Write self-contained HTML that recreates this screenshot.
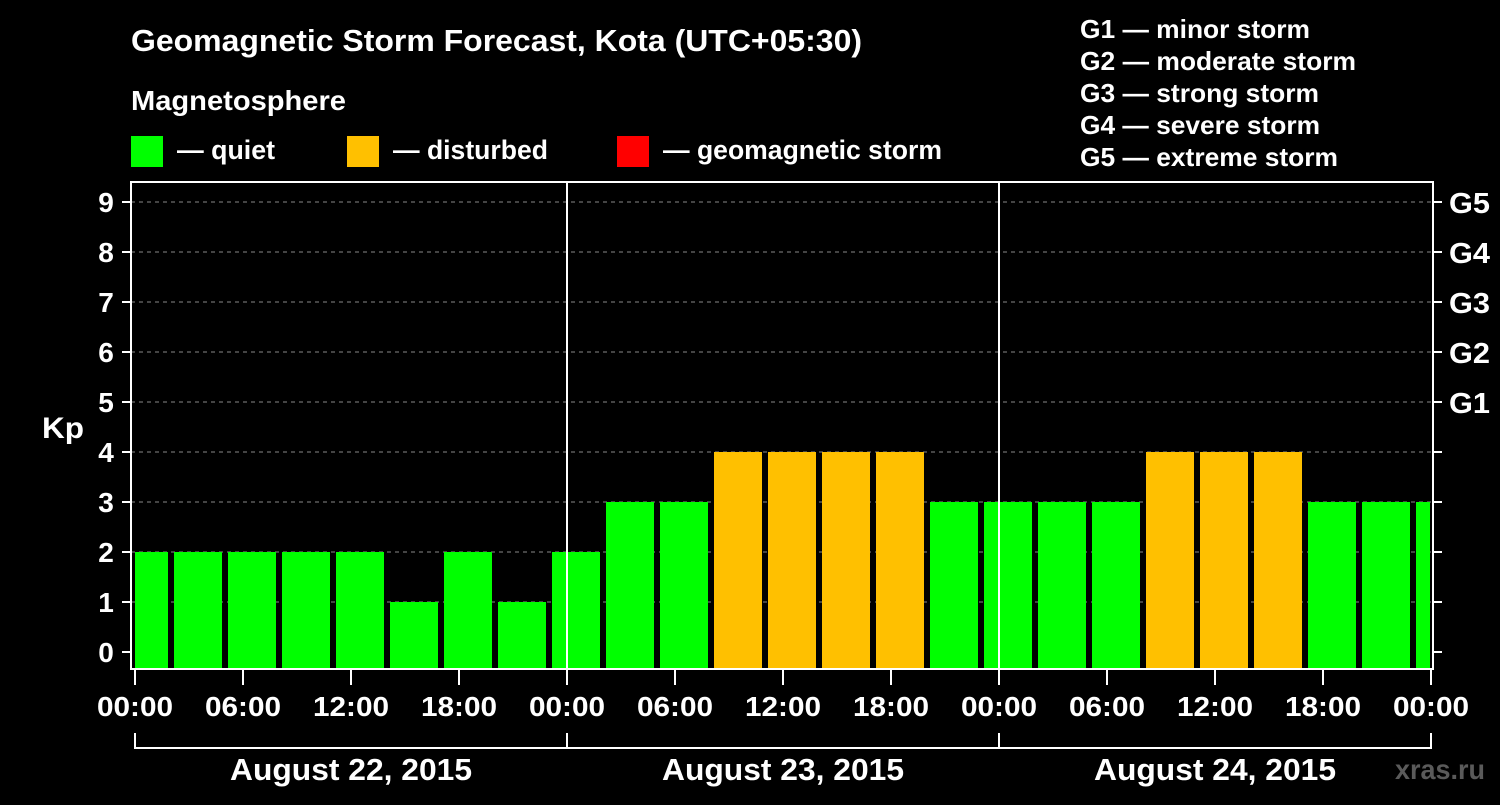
<!DOCTYPE html>
<html><head><meta charset="utf-8"><style>
html,body{margin:0;padding:0;background:#000;}
svg text{font-family:"Liberation Sans",Arial,sans-serif;font-weight:bold;fill:#fff;}
</style></head><body>
<svg id="chart" width="1500" height="800" xmlns="http://www.w3.org/2000/svg">
<rect width="1500" height="800" fill="#000"/>
<text x="131" y="51" font-size="31" textLength="731" lengthAdjust="spacingAndGlyphs">Geomagnetic Storm Forecast, Kota (UTC+05:30)</text>
<text x="131" y="110" font-size="28" textLength="215" lengthAdjust="spacingAndGlyphs">Magnetosphere</text>
<g><rect x="131" y="136" width="32" height="31" fill="#00ff00"/><text x="177" y="159" font-size="27" textLength="98" lengthAdjust="spacingAndGlyphs">— quiet</text></g>
<g><rect x="347" y="136" width="32" height="31" fill="#ffc000"/><text x="393" y="159" font-size="27" textLength="155" lengthAdjust="spacingAndGlyphs">— disturbed</text></g>
<g><rect x="617" y="136" width="32" height="31" fill="#ff0000"/><text x="663" y="159" font-size="27" textLength="279" lengthAdjust="spacingAndGlyphs">— geomagnetic storm</text></g>
<g font-size="26">
<text x="1080" y="38" textLength="230" lengthAdjust="spacingAndGlyphs">G1 — minor storm</text>
<text x="1080" y="70" textLength="276" lengthAdjust="spacingAndGlyphs">G2 — moderate storm</text>
<text x="1080" y="102" textLength="239" lengthAdjust="spacingAndGlyphs">G3 — strong storm</text>
<text x="1080" y="134" textLength="240" lengthAdjust="spacingAndGlyphs">G4 — severe storm</text>
<text x="1080" y="166" textLength="258" lengthAdjust="spacingAndGlyphs">G5 — extreme storm</text>
</g>
<text x="42" y="438" font-size="30" textLength="42" lengthAdjust="spacingAndGlyphs">Kp</text>
<text x="1395" y="779" font-size="28" textLength="90" lengthAdjust="spacingAndGlyphs" style="fill:#5a5a5a">xras.ru</text>
<g id="grid"></g><g id="bars"></g><g id="axes"></g>
</svg>
<script>
const kpValues=[2,2,2,2,2,1,2,1,2,3,3,4,4,4,4,3,3,3,3,4,4,4,3,3,3];
const barStartHours=[-1,2,5,8,11,14,17,20,23,26,29,32,35,38,41,44,47,50,53,56,59,62,65,68,71];
const yTicks=[0,1,2,3,4,5,6,7,8,9];
const gLabels=["G1","G2","G3","G4","G5"];
const gLevels=[5,6,7,8,9];
const xTickLabels=["00:00","06:00","12:00","18:00","00:00","06:00","12:00","18:00","00:00","06:00","12:00","18:00","00:00"];
const dayLabels=["August 22, 2015","August 23, 2015","August 24, 2015"];
const NS="http://www.w3.org/2000/svg";
const L=131,R=1433,T=182,B=669;
const xs=h=>135+h*18;
const ys=v=>652-v*50;
function mk(tag,attrs,parent){const e=document.createElementNS(NS,tag);for(const k in attrs)e.setAttribute(k,attrs[k]);document.getElementById(parent).appendChild(e);return e;}
yTicks.forEach(v=>{if(v>0){const l=mk('line',{x1:L,x2:R,y1:ys(v),y2:ys(v),stroke:'#888','stroke-width':1,'stroke-dasharray':'4,4'},'grid');

}});
kpValues.forEach((v,i)=>{let x0=Math.max(xs(barStartHours[i])+3,L+4);let x1=Math.min(xs(barStartHours[i]+3)-3,xs(72)-1);
const c=v>=5?'#ff0000':(v>=4?'#ffc000':'#00ff00');
const r=mk('rect',{x:x0,y:ys(v),width:x1-x0,height:B-1-ys(v),fill:c},'bars');

});
mk('rect',{x:L,y:T,width:R-L,height:B-T,fill:'none',stroke:'#fff','stroke-width':2},'axes');
[1,2].forEach(d=>{const l=mk('line',{x1:xs(24*d),x2:xs(24*d),y1:T,y2:B,stroke:'#fff','stroke-width':2},'axes');

});
yTicks.forEach(v=>{mk('line',{x1:122,x2:L,y1:ys(v),y2:ys(v),stroke:'#fff','stroke-width':2},'axes');
mk('line',{x1:R,x2:R+9,y1:ys(v),y2:ys(v),stroke:'#fff','stroke-width':2},'axes');
const t=mk('text',{x:106,y:ys(v)+10,'font-size':28,'text-anchor':'middle'},'axes');t.textContent=v;

});
gLabels.forEach((g,i)=>{const t=mk('text',{x:1449,y:ys(gLevels[i])+11,'font-size':29,textLength:41,lengthAdjust:'spacingAndGlyphs'},'axes');t.textContent=g;

});
xTickLabels.forEach((s,i)=>{const x=xs(i*6);mk('line',{x1:x,x2:x,y1:B,y2:685,stroke:'#fff','stroke-width':2},'axes');
const t=mk('text',{x:x-38,y:716,'font-size':28,textLength:76,lengthAdjust:'spacingAndGlyphs'},'axes');t.textContent=s;

});
mk('line',{x1:xs(0),x2:xs(72),y1:748,y2:748,stroke:'#fff','stroke-width':2},'axes');
[0,24,48,72].forEach(h=>mk('line',{x1:xs(h),x2:xs(h),y1:733,y2:749,stroke:'#fff','stroke-width':2},'axes'));
dayLabels.forEach((s,i)=>{const t=mk('text',{x:xs(24*i+12)-121,y:780,'font-size':31,textLength:242,lengthAdjust:'spacingAndGlyphs'},'axes');t.textContent=s;

});
</script>
</body></html>
